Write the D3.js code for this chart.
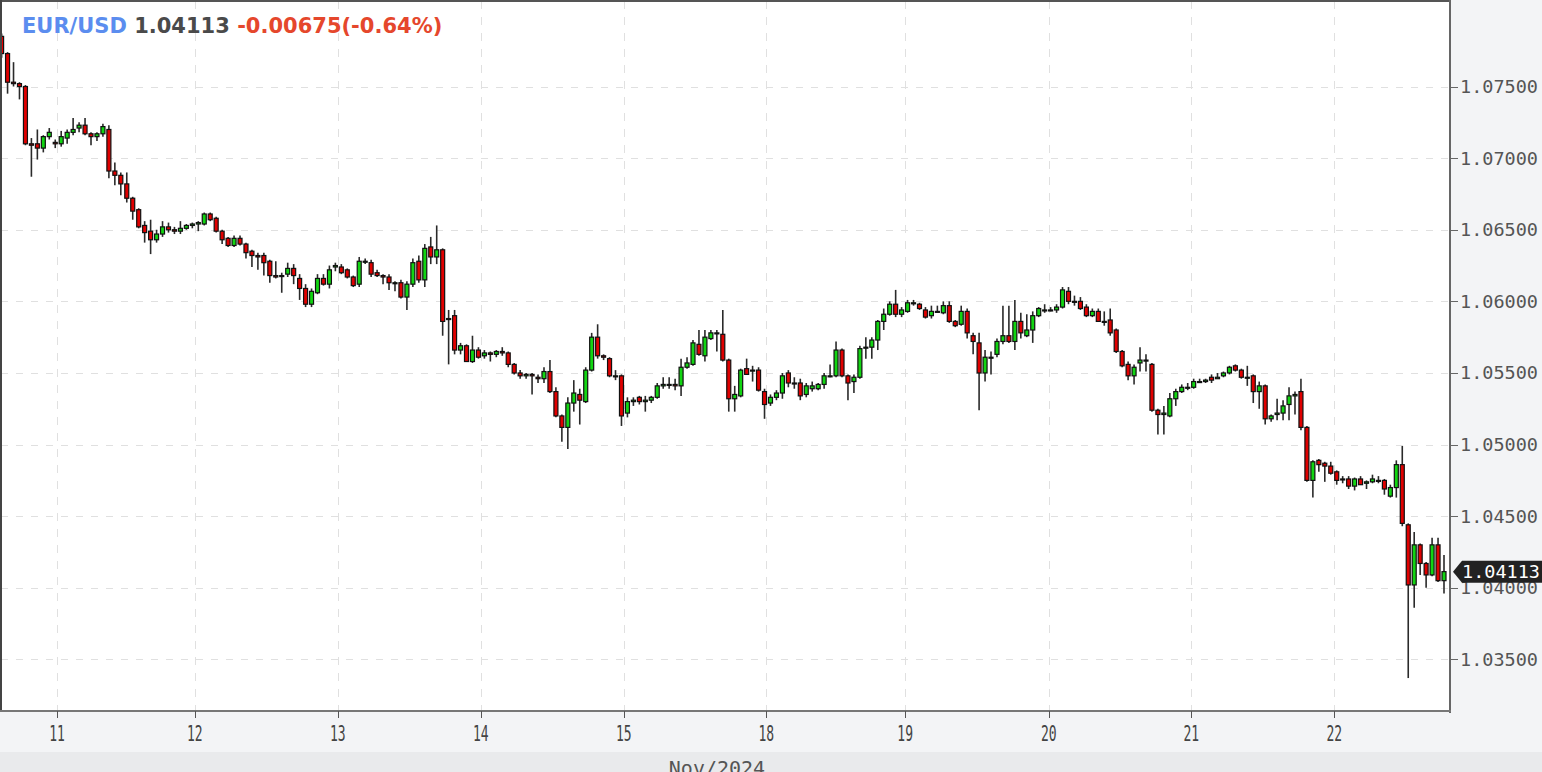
<!DOCTYPE html>
<html>
<head>
<meta charset="utf-8">
<script src="https://cdn.jsdelivr.net/npm/d3@7"></script>
<style>
  body { margin: 0; background: #f3f4f6; }
  svg { display: block; }
</style>
</head>
<body>
<div id="chart"></div>
<script>
// VARIABLES
var width = 1542;
var height = 772;
var plotLeft = 1, plotTop = 1, plotRight = 1450, plotBottom = 711;

// hourly candles
var opens = [
  1.0785,1.0773,1.0753,1.0752,1.0750,1.0710,1.0710,1.0707,1.0715,1.0711,
  1.0710,1.0714,1.0718,1.0721,1.0723,1.0717,1.0715,1.0717,1.0720,1.0691,
  1.0688,1.0682,1.0672,1.0664,1.0653,1.0649,1.0643,1.0647,1.0652,1.0650,
  1.0649,1.0651,1.0653,1.0654,1.0654,1.0661,1.0658,1.0649,1.0644,1.0639,
  1.0644,1.0640,1.0635,1.0632,1.0632,1.0628,1.0618,1.0618,1.0619,1.0623,
  1.0616,1.0609,1.0598,1.0606,1.0616,1.0612,1.0624,1.0624,1.0622,1.0617,
  1.0612,1.0628,1.0627,1.0620,1.0618,1.0617,1.0613,1.0613,1.0603,1.0612,
  1.0628,1.0615,1.0638,1.0631,1.0636,1.0588,1.0590,1.0566,1.0569,1.0558,
  1.0566,1.0562,1.0564,1.0563,1.0565,1.0564,1.0556,1.0550,1.0548,1.0549,
  1.0547,1.0546,1.0551,1.0537,1.0520,1.0512,1.0529,1.0535,1.0530,1.0552,
  1.0575,1.0562,1.0560,1.0548,1.0548,1.0522,1.0530,1.0533,1.0530,1.0531,
  1.0533,1.0541,1.0542,1.0542,1.0541,1.0554,1.0556,1.0570,1.0562,1.0574,
  1.0578,1.0577,1.0559,1.0532,1.0534,1.0553,1.0552,1.0552,1.0537,1.0529,
  1.0533,1.0536,1.0550,1.0543,1.0543,1.0535,1.0539,1.0539,1.0542,1.0548,
  1.0548,1.0566,1.0548,1.0544,1.0547,1.0568,1.0568,1.0573,1.0586,1.0591,
  1.0598,1.0591,1.0593,1.0599,1.0598,1.0594,1.0590,1.0593,1.0592,1.0597,
  1.0586,1.0584,1.0593,1.0576,1.0571,1.0550,1.0561,1.0563,1.0572,1.0576,
  1.0572,1.0586,1.0576,1.0580,1.0590,1.0594,1.0594,1.0594,1.0596,1.0607,
  1.0600,1.0600,1.0596,1.0590,1.0593,1.0586,1.0587,1.0580,1.0565,1.0556,
  1.0548,1.0557,1.0559,1.0556,1.0524,1.0521,1.0520,1.0532,1.0537,1.0540,
  1.0540,1.0544,1.0544,1.0547,1.0546,1.0548,1.0550,1.0555,1.0552,1.0547,
  1.0548,1.0537,1.0541,1.0518,1.0521,1.0522,1.0528,1.0534,1.0537,1.0512,
  1.0475,1.0489,1.0487,1.0485,1.0481,1.0476,1.0476,1.0471,1.0476,1.0473,
  1.0474,1.0475,1.0475,1.0464,1.0470,1.0486,1.0444,1.0402,1.0430,1.0417,
  1.0409,1.0430,1.0405
];
var highs = [
  1.0787,1.0774,1.0767,1.0753,1.0751,1.0714,1.0720,1.0716,1.0721,1.0713,
  1.0719,1.0720,1.0728,1.0725,1.0728,1.0718,1.0718,1.0724,1.0723,1.0697,
  1.0690,1.0690,1.0673,1.0665,1.0656,1.0657,1.0650,1.0656,1.0655,1.0652,
  1.0656,1.0654,1.0655,1.0656,1.0662,1.0662,1.0659,1.0650,1.0645,1.0646,
  1.0646,1.0641,1.0636,1.0634,1.0634,1.0629,1.0628,1.0620,1.0627,1.0626,
  1.0619,1.0612,1.0609,1.0619,1.0619,1.0625,1.0627,1.0626,1.0623,1.0618,
  1.0631,1.0630,1.0629,1.0622,1.0619,1.0619,1.0614,1.0615,1.0614,1.0630,
  1.0632,1.0640,1.0645,1.0653,1.0637,1.0594,1.0594,1.0571,1.0570,1.0576,
  1.0568,1.0566,1.0565,1.0566,1.0568,1.0565,1.0557,1.0552,1.0550,1.0550,
  1.0549,1.0554,1.0559,1.0540,1.0521,1.0533,1.0545,1.0539,1.0554,1.0578,
  1.0584,1.0563,1.0561,1.0552,1.0549,1.0533,1.0533,1.0534,1.0534,1.0534,
  1.0543,1.0547,1.0547,1.0546,1.0560,1.0561,1.0573,1.0580,1.0580,1.0580,
  1.0580,1.0594,1.0560,1.0541,1.0553,1.0560,1.0555,1.0554,1.0539,1.0535,
  1.0538,1.0550,1.0552,1.0547,1.0546,1.0543,1.0544,1.0543,1.0550,1.0556,
  1.0572,1.0567,1.0549,1.0549,1.0569,1.0575,1.0575,1.0587,1.0595,1.0600,
  1.0608,1.0596,1.0601,1.0601,1.0599,1.0596,1.0597,1.0597,1.0600,1.0600,
  1.0587,1.0597,1.0595,1.0578,1.0578,1.0566,1.0565,1.0574,1.0597,1.0597,
  1.0601,1.0592,1.0591,1.0593,1.0596,1.0598,1.0596,1.0598,1.0610,1.0610,
  1.0604,1.0603,1.0598,1.0595,1.0595,1.0593,1.0595,1.0581,1.0566,1.0558,
  1.0556,1.0568,1.0563,1.0557,1.0525,1.0527,1.0536,1.0539,1.0542,1.0543,
  1.0546,1.0546,1.0546,1.0549,1.0550,1.0551,1.0555,1.0556,1.0553,1.0555,
  1.0549,1.0544,1.0542,1.0521,1.0532,1.0531,1.0540,1.0537,1.0546,1.0513,
  1.0489,1.0490,1.0488,1.0488,1.0482,1.0478,1.0478,1.0477,1.0478,1.0475,
  1.0479,1.0478,1.0476,1.0472,1.0489,1.0499,1.0445,1.0439,1.0431,1.0418,
  1.0435,1.0435,1.0423
];
var lows = [
  1.0770,1.0745,1.0750,1.0741,1.0709,1.0687,1.0699,1.0704,1.0713,1.0707,
  1.0708,1.0710,1.0716,1.0718,1.0716,1.0709,1.0712,1.0715,1.0686,1.0681,
  1.0674,1.0669,1.0657,1.0651,1.0641,1.0633,1.0641,1.0645,1.0648,1.0647,
  1.0647,1.0650,1.0651,1.0649,1.0653,1.0656,1.0648,1.0640,1.0638,1.0638,
  1.0639,1.0630,1.0624,1.0622,1.0618,1.0613,1.0616,1.0606,1.0617,1.0612,
  1.0601,1.0596,1.0596,1.0605,1.0611,1.0609,1.0621,1.0619,1.0616,1.0610,
  1.0610,1.0626,1.0617,1.0617,1.0612,1.0608,1.0607,1.0602,1.0594,1.0610,
  1.0613,1.0610,1.0626,1.0626,1.0576,1.0556,1.0563,1.0563,1.0558,1.0557,
  1.0560,1.0560,1.0558,1.0561,1.0562,1.0554,1.0549,1.0546,1.0546,1.0535,
  1.0543,1.0543,1.0536,1.0519,1.0502,1.0497,1.0523,1.0514,1.0529,1.0551,
  1.0560,1.0559,1.0547,1.0545,1.0513,1.0519,1.0527,1.0528,1.0523,1.0529,
  1.0532,1.0539,1.0539,1.0538,1.0534,1.0553,1.0555,1.0562,1.0558,1.0573,
  1.0565,1.0558,1.0523,1.0523,1.0533,1.0549,1.0544,1.0537,1.0518,1.0527,
  1.0531,1.0532,1.0540,1.0539,1.0531,1.0533,1.0537,1.0538,1.0539,1.0547,
  1.0547,1.0547,1.0531,1.0536,1.0546,1.0560,1.0560,1.0566,1.0580,1.0590,
  1.0589,1.0589,1.0592,1.0597,1.0594,1.0588,1.0588,1.0592,1.0591,1.0585,
  1.0582,1.0583,1.0574,1.0563,1.0524,1.0544,1.0549,1.0561,1.0570,1.0571,
  1.0566,1.0574,1.0575,1.0571,1.0589,1.0592,1.0593,1.0592,1.0595,1.0598,
  1.0597,1.0594,1.0589,1.0589,1.0586,1.0583,1.0576,1.0564,1.0554,1.0545,
  1.0542,1.0551,1.0551,1.0523,1.0507,1.0507,1.0519,1.0527,1.0536,1.0538,
  1.0539,1.0543,1.0543,1.0543,1.0546,1.0547,1.0549,1.0551,1.0546,1.0541,
  1.0529,1.0525,1.0514,1.0516,1.0517,1.0517,1.0517,1.0521,1.0510,1.0474,
  1.0463,1.0481,1.0474,1.0479,1.0472,1.0473,1.0469,1.0468,1.0472,1.0469,
  1.0473,1.0473,1.0465,1.0463,1.0463,1.0443,1.0337,1.0386,1.0409,1.0400,
  1.0408,1.0404,1.0396
];
var closes = [
  1.0773,1.0753,1.0752,1.0750,1.0710,1.0709,1.0707,1.0715,1.0718,1.0710,
  1.0715,1.0718,1.0720,1.0723,1.0717,1.0715,1.0717,1.0722,1.0691,1.0688,
  1.0682,1.0672,1.0663,1.0652,1.0648,1.0643,1.0647,1.0652,1.0650,1.0649,
  1.0651,1.0653,1.0654,1.0655,1.0661,1.0657,1.0649,1.0643,1.0639,1.0644,
  1.0640,1.0634,1.0632,1.0631,1.0627,1.0618,1.0617,1.0618,1.0623,1.0618,
  1.0609,1.0598,1.0607,1.0616,1.0612,1.0622,1.0625,1.0620,1.0617,1.0611,
  1.0628,1.0628,1.0619,1.0618,1.0617,1.0613,1.0613,1.0603,1.0612,1.0627,
  1.0615,1.0637,1.0631,1.0636,1.0586,1.0588,1.0566,1.0569,1.0558,1.0566,
  1.0561,1.0564,1.0563,1.0565,1.0564,1.0556,1.0550,1.0548,1.0549,1.0548,
  1.0546,1.0551,1.0537,1.0520,1.0512,1.0529,1.0536,1.0531,1.0552,1.0575,
  1.0562,1.0561,1.0548,1.0548,1.0520,1.0530,1.0531,1.0530,1.0531,1.0533,
  1.0541,1.0542,1.0542,1.0541,1.0554,1.0557,1.0571,1.0563,1.0575,1.0578,
  1.0578,1.0559,1.0532,1.0535,1.0552,1.0549,1.0552,1.0538,1.0528,1.0533,
  1.0536,1.0548,1.0543,1.0543,1.0534,1.0541,1.0541,1.0542,1.0548,1.0548,
  1.0566,1.0548,1.0543,1.0547,1.0567,1.0568,1.0573,1.0586,1.0591,1.0598,
  1.0591,1.0594,1.0599,1.0599,1.0595,1.0589,1.0593,1.0593,1.0597,1.0586,
  1.0583,1.0593,1.0578,1.0572,1.0550,1.0561,1.0561,1.0572,1.0576,1.0572,
  1.0586,1.0578,1.0580,1.0590,1.0595,1.0594,1.0594,1.0596,1.0608,1.0600,
  1.0600,1.0595,1.0590,1.0593,1.0586,1.0586,1.0578,1.0565,1.0555,1.0548,
  1.0554,1.0559,1.0559,1.0524,1.0521,1.0522,1.0532,1.0537,1.0540,1.0540,
  1.0544,1.0544,1.0545,1.0545,1.0547,1.0550,1.0554,1.0552,1.0547,1.0547,
  1.0537,1.0541,1.0518,1.0520,1.0522,1.0527,1.0534,1.0535,1.0512,1.0475,
  1.0488,1.0486,1.0485,1.0480,1.0475,1.0476,1.0471,1.0476,1.0472,1.0474,
  1.0476,1.0475,1.0469,1.0470,1.0486,1.0445,1.0402,1.0430,1.0417,1.0409,
  1.0430,1.0405,1.04113
];

// day ticks (position given as candle index)
var dayLabels = ["11","12","13","14","15","18","19","20","21","22"];
var dayIndex = [9.3, 32.4, 56.4, 80.4, 104.4, 128.3, 151.6, 175.7, 199.6, 223.6];
var priceTicks = [1.035, 1.040, 1.045, 1.050, 1.055, 1.060, 1.065, 1.070, 1.075];
var symbol = "EUR/USD";
var lastPrice = 1.04113;
var change = "-0.00675(-0.64%)";
var monthLabel = "Nov/2024";

var green = "#12d512";
var red = "#e00000";

var svg = d3.select("#chart")
  .append("svg")
  .attr("width", width)
  .attr("height", height);

var xScale = d3.scaleLinear()
  .domain([0, closes.length - 1])
  .range([1.6, 1444]);

var yScale = d3.scaleLinear()
  .domain([1.0314, 1.0809])
  .range([plotBottom, plotTop + 1]);

// backgrounds
svg.append("rect")
  .attr("width", width).attr("height", height)
  .attr("fill", "#f3f4f6");
svg.append("rect")
  .attr("x", 0).attr("y", 752)
  .attr("width", width).attr("height", 20)
  .attr("fill", "#e9eaec");
svg.append("rect")
  .attr("x", plotLeft).attr("y", plotTop)
  .attr("width", plotRight - plotLeft).attr("height", plotBottom - plotTop)
  .attr("fill", "#fff");

svg.append("clipPath").attr("id", "plotClip")
  .append("rect")
  .attr("x", plotLeft + 1).attr("y", plotTop + 1)
  .attr("width", plotRight - plotLeft - 1).attr("height", plotBottom - plotTop - 1);

// grid
var grid = svg.append("g").attr("shape-rendering", "crispEdges");
grid.selectAll("line.h")
  .data(priceTicks)
  .enter()
  .append("line")
  .attr("class", "h")
  .attr("x1", plotLeft).attr("x2", plotRight)
  .attr("y1", function(d) { return Math.round(yScale(d)) + 0.5; })
  .attr("y2", function(d) { return Math.round(yScale(d)) + 0.5; })
  .attr("stroke", "#e0e0e0")
  .attr("stroke-dasharray", "7,8");
grid.selectAll("line.v")
  .data(dayIndex)
  .enter()
  .append("line")
  .attr("class", "v")
  .attr("x1", function(d) { return Math.round(xScale(d)) + 0.5; })
  .attr("x2", function(d) { return Math.round(xScale(d)) + 0.5; })
  .attr("y1", plotTop).attr("y2", plotBottom)
  .attr("stroke", "#e0e0e0")
  .attr("stroke-dasharray", "8,8");

// candles
var candles = svg.append("g")
  .attr("clip-path", "url(#plotClip)")
  .selectAll("g")
  .data(d3.range(closes.length))
  .enter()
  .append("g");

candles.append("line")
  .attr("x1", function(i) { return xScale(i); })
  .attr("x2", function(i) { return xScale(i); })
  .attr("y1", function(i) { return yScale(highs[i]); })
  .attr("y2", function(i) { return yScale(lows[i]); })
  .attr("stroke", "#2a2a2a")
  .attr("stroke-width", 1.6);

candles.append("rect")
  .attr("x", function(i) { return xScale(i) - 2; })
  .attr("y", function(i) { return yScale(Math.max(opens[i], closes[i])); })
  .attr("width", 4)
  .attr("height", function(i) {
    return Math.max(1, Math.abs(yScale(opens[i]) - yScale(closes[i])));
  })
  .attr("fill", function(i) { return closes[i] >= opens[i] ? green : red; })
  .attr("stroke", "#111")
  .attr("stroke-width", 1.2);

// frame
svg.append("line")
  .attr("x1", plotLeft).attr("x2", plotRight).attr("y1", 1).attr("y2", 1)
  .attr("stroke", "#555").attr("stroke-width", 2);
svg.append("line")
  .attr("x1", 1).attr("x2", 1).attr("y1", 0).attr("y2", plotBottom)
  .attr("stroke", "#444").attr("stroke-width", 2);
svg.append("line")
  .attr("x1", plotRight).attr("x2", plotRight).attr("y1", 0).attr("y2", plotBottom + 2)
  .attr("stroke", "#666").attr("stroke-width", 2);
svg.append("line")
  .attr("x1", 0).attr("x2", plotRight + 1).attr("y1", plotBottom).attr("y2", plotBottom)
  .attr("stroke", "#777").attr("stroke-width", 2);

// right price axis
var yAxis = svg.append("g");
yAxis.selectAll("line")
  .data(priceTicks)
  .enter()
  .append("line")
  .attr("x1", plotRight).attr("x2", plotRight + 8)
  .attr("y1", function(d) { return Math.round(yScale(d)) + 0.5; })
  .attr("y2", function(d) { return Math.round(yScale(d)) + 0.5; })
  .attr("stroke", "#666");
yAxis.selectAll("text")
  .data(priceTicks)
  .enter()
  .append("text")
  .attr("x", 1460)
  .attr("y", function(d) { return yScale(d) + 6.5; })
  .attr("font-family", "DejaVu Sans Mono")
  .attr("font-size", 18)
  .attr("textLength", 78)
  .attr("lengthAdjust", "spacingAndGlyphs")
  .attr("fill", "#555")
  .text(function(d) { return d3.format(".5f")(d); });

// bottom time axis
var xAxis = svg.append("g");
xAxis.selectAll("line")
  .data(dayIndex)
  .enter()
  .append("line")
  .attr("x1", function(d) { return Math.round(xScale(d)) + 0.5; })
  .attr("x2", function(d) { return Math.round(xScale(d)) + 0.5; })
  .attr("y1", plotBottom).attr("y2", plotBottom + 7)
  .attr("stroke", "#555");
xAxis.selectAll("text")
  .data(dayIndex)
  .enter()
  .append("text")
  .attr("transform", function(d) { return "translate(" + xScale(d) + ",741) scale(0.62,1)"; })
  .attr("text-anchor", "middle")
  .attr("font-family", "DejaVu Sans Mono")
  .attr("font-size", 21)
  .attr("fill", "#444")
  .text(function(d, i) { return dayLabels[i]; });

svg.append("text")
  .attr("x", 717).attr("y", 775)
  .attr("text-anchor", "middle")
  .attr("font-family", "DejaVu Sans Mono")
  .attr("font-size", 20)
  .attr("fill", "#555")
  .text(monthLabel);

// last price marker
var ly = yScale(lastPrice);
svg.append("path")
  .attr("d", "M1453," + ly + " L1462," + (ly - 11) + " L1542," + (ly - 11) +
             " L1542," + (ly + 11) + " L1462," + (ly + 11) + " Z")
  .attr("fill", "#222");
svg.append("text")
  .attr("x", 1462).attr("y", ly + 6.5)
  .attr("font-family", "DejaVu Sans Mono")
  .attr("font-size", 18)
  .attr("textLength", 78)
  .attr("lengthAdjust", "spacingAndGlyphs")
  .attr("fill", "#fff")
  .text(d3.format(".5f")(lastPrice));

// title
var title = svg.append("text")
  .attr("x", 22).attr("y", 32.5)
  .attr("font-family", "DejaVu Sans")
  .attr("font-weight", "bold")
  .attr("font-size", 21);
title.append("tspan").attr("fill", "#5b8def").text(symbol + " ");
title.append("tspan").attr("fill", "#4a4a4a").text(d3.format(".5f")(lastPrice) + " ");
title.append("tspan").attr("fill", "#e5472c").text(change);
</script>
</body>
</html>
